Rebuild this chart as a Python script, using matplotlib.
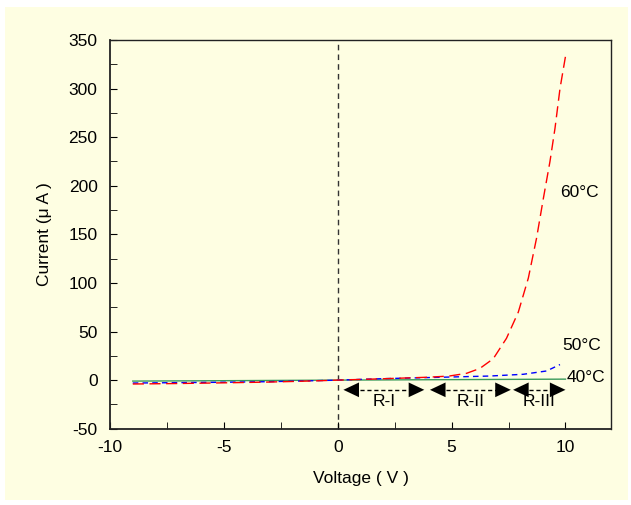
import matplotlib
matplotlib.use("Agg")
import matplotlib.pyplot as plt
from matplotlib.patches import Rectangle
import numpy as np

plt.rcParams['font.family'] = ['Liberation Sans', 'DejaVu Sans']
plt.rcParams['axes.unicode_minus'] = False

# Data
v60 = [-9, -7, -5, -3, -1, 0, 1, 2, 3, 4, 4.9, 5.66, 6.24, 6.83, 7.41, 7.93, 8.37, 8.73, 9.03, 9.32, 9.54, 9.76, 10.0]
i60 = [-4, -3.5, -2.8, -2, -0.8, 0, 0.7, 1.4, 2.2, 3.0, 4.2, 7, 12, 22, 43, 70, 105, 146, 187, 225, 259, 300, 333]
v50 = [-9, -7, -5, -3, -1, 0, 2, 4.48, 6.68, 8.15, 9.17, 9.76]
i50 = [-3, -2.6, -2.2, -1.6, -0.6, 0, 1.5, 2.9, 4.2, 6, 9.4, 16]
v40 = [-9, -5, 0, 5, 10]
i40 = [-1, -0.6, 0, 0.5, 1]

curve_labels = ["60\u00b0C", "50\u00b0C", "40\u00b0C"]
label_pos = [(10.6, 193), (10.7, 36), (10.9, 3)]

regions = ["R-I", "R-II", "R-III"]
region_start = [0.25, 4.05, 7.7]
region_end = [3.8, 7.6, 10.0]
arrow_y = -10
region_label_y = -22

fig = plt.figure(figsize=(6.31, 5.05), dpi=100, facecolor='white')
yellow = '#FEFEE2'
fig.patches.append(Rectangle((5/631, 5/505), 623/631, 493/505, transform=fig.transFigure,
                             facecolor=yellow, edgecolor='none', zorder=-10))

ax = fig.add_axes([110/631, 1 - 428.7/505, (611-110)/631, (428.7-40)/505])
ax.set_facecolor(yellow)

ax.plot(v40, i40, color='#3a9a5a', lw=1.0, zorder=2)
ax.plot(v50, i50, color='blue', lw=1.0, ls=(0, (4, 3)), zorder=3)
ax.plot(v60, i60, color='red', lw=1.0, ls=(0, (8, 4)), zorder=4)

ax.axvline(0, color='#333333', lw=1.0, ls=(0, (4, 3)), zorder=1)

for lab, (x, y) in zip(curve_labels, label_pos):
    ax.text(x, y, lab, fontsize=12.5, ha='center', va='center')

head = '-|>,head_length=0.7,head_width=0.33'
for lab, s, e in zip(regions, region_start, region_end):
    ax.plot([s + 0.4, e - 0.4], [arrow_y, arrow_y], color='black', lw=1.0, ls=(0, (3, 2)))
    ax.annotate('', xy=(s, arrow_y), xytext=(s + 0.5, arrow_y),
                arrowprops=dict(arrowstyle=head, color='black', lw=0.01,
                                mutation_scale=16, shrinkA=0, shrinkB=0))
    ax.annotate('', xy=(e, arrow_y), xytext=(e - 0.5, arrow_y),
                arrowprops=dict(arrowstyle=head, color='black', lw=0.01,
                                mutation_scale=16, shrinkA=0, shrinkB=0))
    ax.text((s + e) / 2, region_label_y, lab, fontsize=12.5, ha='center', va='center')

ax.set_xlim(-10, 12)
ax.set_ylim(-50, 350)
ax.set_xticks([-10, -5, 0, 5, 10])
ax.set_xticks(np.arange(-10, 12.1, 2.5), minor=True)
ax.set_yticks(np.arange(-50, 351, 50))
ax.set_yticks(np.arange(-50, 351, 25), minor=True)
ax.tick_params(which='both', direction='in', labelsize=12.5, top=False, right=False)
ax.tick_params(axis='x', which='major', length=5, pad=8)
ax.tick_params(axis='y', which='major', length=5, pad=9)
ax.tick_params(which='minor', length=5)
for sp in ax.spines.values():
    sp.set_color('#222222')
    sp.set_linewidth(1.0)
ax.spines['left'].set_linewidth(1.3)
ax.spines['bottom'].set_linewidth(1.3)

ax.set_xlabel('Voltage ( V )', fontsize=12.5, labelpad=12)
ax.set_ylabel('Current (\u03bc A )', fontsize=12.5, labelpad=12)

fig.savefig('out.png', dpi=100, facecolor='white')
